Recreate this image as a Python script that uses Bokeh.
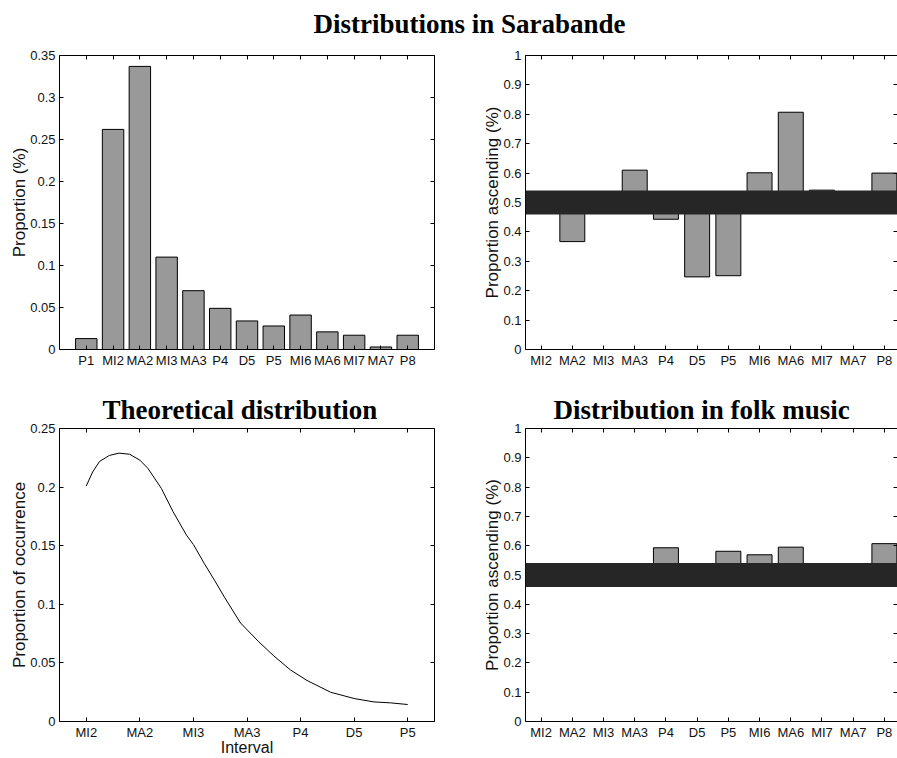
from bokeh.plotting import figure
from bokeh.layouts import column, row
from bokeh.models import FixedTicker, CustomJSTickFormatter, LinearAxis, Span, Range1d
from bokeh.embed import file_html
from bokeh.resources import INLINE

# ---------------- data ----------------
sarabande_intervals = ["P1", "MI2", "MA2", "MI3", "MA3", "P4", "D5", "P5",
                       "MI6", "MA6", "MI7", "MA7", "P8"]
sarabande_proportion = [0.013, 0.262, 0.337, 0.110, 0.070, 0.049, 0.034,
                        0.028, 0.041, 0.021, 0.017, 0.003, 0.017]

ascending_intervals = ["MI2", "MA2", "MI3", "MA3", "P4", "D5", "P5",
                       "MI6", "MA6", "MI7", "MA7", "P8"]
sarabande_ascending = [0.50, 0.367, 0.50, 0.610, 0.443, 0.247, 0.251,
                       0.601, 0.807, 0.542, 0.50, 0.600]
folk_ascending = [0.50, 0.50, 0.50, 0.50, 0.593, 0.50, 0.581,
                  0.569, 0.595, 0.50, 0.50, 0.607]
chance_level = 0.5

theory_intervals = ["MI2", "MA2", "MI3", "MA3", "P4", "D5", "P5"]
theory_pos = [1.0, 1.12, 1.25, 1.43, 1.61, 1.81, 2.0, 2.15, 2.4, 2.62, 2.87,
              3.0, 3.2, 3.4, 3.58, 3.88, 4.22, 4.5, 4.81, 5.12, 5.56, 6.0,
              6.37, 6.68, 7.0]
theory_prop = [0.201, 0.213, 0.222, 0.227, 0.229, 0.228, 0.223, 0.216, 0.199,
               0.179, 0.159, 0.151, 0.135, 0.120, 0.106, 0.084, 0.068, 0.056,
               0.044, 0.035, 0.025, 0.0196, 0.0167, 0.0159, 0.0145]

prop_ticks = [0, 0.05, 0.1, 0.15, 0.2, 0.25, 0.3, 0.35]
asc_ticks = [0, 0.1, 0.2, 0.3, 0.4, 0.5, 0.6, 0.7, 0.8, 0.9, 1.0]
theory_ticks = [0, 0.05, 0.1, 0.15, 0.2, 0.25]

# ---------------- styling ----------------
SANS = "Liberation Sans"
SERIF = "Liberation Serif"
TXT = "#111111"
BAR = "#999999"


def num_fmt():
    return CustomJSTickFormatter(code="return String(Math.round(tick*1000)/1000);")


def cat_fmt(labels):
    return CustomJSTickFormatter(args=dict(labels=labels),
                                 code="const i = Math.round(tick) - 1; return (i >= 0 && i < labels.length) ? labels[i] : '';")


def box_axis(ticks, line=True):
    return LinearAxis(ticker=FixedTicker(ticks=ticks),
                      major_label_text_font_size="1px", major_label_text_color=None,
                      major_label_standoff=0, major_tick_in=4, major_tick_out=0,
                      minor_tick_line_color=None,
                      axis_line_color="black" if line else None,
                      major_tick_line_color="black")


def style(p, xlabels, yticks, right_line=True, ylabel="", xlabel=None):
    p.xgrid.visible = False
    p.ygrid.visible = False
    p.outline_line_color = None
    p.background_fill_color = "white"
    p.border_fill_color = "white"
    xt = list(range(1, len(xlabels) + 1))
    xa = p.xaxis[0]
    xa.ticker = FixedTicker(ticks=xt)
    xa.formatter = cat_fmt(xlabels)
    ya = p.yaxis[0]
    ya.ticker = FixedTicker(ticks=yticks)
    ya.formatter = num_fmt()
    ya.axis_label = ylabel
    if xlabel:
        xa.axis_label = xlabel
    for ax in (xa, ya):
        ax.major_tick_in = 4
        ax.major_tick_out = 0
        ax.minor_tick_line_color = None
        ax.axis_line_color = "black"
        ax.major_tick_line_color = "black"
        ax.major_label_text_font = SANS
        ax.major_label_text_font_size = "13px"
        ax.major_label_text_color = TXT
        ax.major_label_standoff = 4
        ax.axis_label_text_font = SANS
        ax.axis_label_text_font_size = "17px"
        ax.axis_label_text_font_style = "normal"
        ax.axis_label_text_color = TXT
    ya.axis_label_standoff = -2
    xa.major_label_standoff = 3
    xa.axis_label_text_font_size = "16px"
    xa.axis_label_standoff = -4
    p.add_layout(box_axis(xt), "above")
    p.add_layout(box_axis(yticks, right_line), "right")


def panel_title(p, text, offset, standoff):
    p.title.text = text
    p.title.text_font = SERIF
    p.title.text_font_size = "27px"
    p.title.text_font_style = "bold"
    p.title.text_color = "black"
    p.title.align = "left"
    p.title.offset = offset
    p.title.standoff = standoff


# ---------------- suptitle ----------------
pt = figure(width=897, height=40, toolbar_location=None, output_backend="svg",
            x_axis_location=None, y_axis_location=None,
            min_border_left=0, min_border_right=0, min_border_top=39, min_border_bottom=0)
pt.outline_line_color = None
pt.xgrid.visible = False
pt.ygrid.visible = False
pt.title.text = "Distributions in Sarabande"
pt.title.text_font = SERIF
pt.title.text_font_size = "27px"
pt.title.text_font_style = "bold"
pt.title.text_color = "black"
pt.title.align = "left"
pt.title.offset = 313
pt.title.vertical_align = "bottom"
pt.title.standoff = 1

# ---------------- top-left ----------------
n1 = len(sarabande_intervals)
p1 = figure(width=450, height=335, toolbar_location=None, output_backend="svg",
            x_range=Range1d(0, n1 + 1), y_range=Range1d(0, 0.35),
            min_border_left=59, min_border_right=16, min_border_top=15, min_border_bottom=26)
p1.vbar(x=list(range(1, n1 + 1)), top=sarabande_proportion, bottom=0, width=0.8,
        fill_color=BAR, line_color="black", line_width=1)
style(p1, sarabande_intervals, prop_ticks, ylabel="Proportion (%)")

# ---------------- top-right ----------------
n2 = len(ascending_intervals)
p2 = figure(width=447, height=335, toolbar_location=None, output_backend="svg",
            x_range=Range1d(0.5, n2 + 0.42), y_range=Range1d(0, 1),
            min_border_left=75, min_border_right=0, min_border_top=15, min_border_bottom=26)
p2.vbar(x=list(range(1, n2 + 1)), top=sarabande_ascending, bottom=chance_level, width=0.8,
        fill_color=BAR, line_color="black", line_width=1)
p2.add_layout(Span(location=chance_level, dimension="width", line_color="#262626", line_width=24))
style(p2, ascending_intervals, asc_ticks, right_line=False, ylabel="Proportion ascending (%)")

# ---------------- bottom-left ----------------
n3 = len(theory_intervals)
p3 = figure(width=450, height=383, toolbar_location=None, output_backend="svg",
            x_range=Range1d(0.5, n3 + 0.5), y_range=Range1d(0, 0.25),
            min_border_left=59, min_border_right=16, min_border_top=53, min_border_bottom=36)
p3.line(theory_pos, theory_prop, line_color="black", line_width=1, line_join="round")
style(p3, theory_intervals, theory_ticks, ylabel="Proportion of occurrence", xlabel="Interval")
panel_title(p3, "Theoretical distribution", 43, 8)

# ---------------- bottom-right ----------------
p4 = figure(width=447, height=383, toolbar_location=None, output_backend="svg",
            x_range=Range1d(0.5, n2 + 0.42), y_range=Range1d(0, 1),
            min_border_left=75, min_border_right=0, min_border_top=53, min_border_bottom=36)
p4.vbar(x=list(range(1, n2 + 1)), top=folk_ascending, bottom=chance_level, width=0.8,
        fill_color=BAR, line_color="black", line_width=1)
p4.add_layout(Span(location=chance_level, dimension="width", line_color="#262626", line_width=24))
style(p4, ascending_intervals, asc_ticks, right_line=False, ylabel="Proportion ascending (%)")
panel_title(p4, "Distribution in folk music", 28, 8)

layout = column(pt, row(p1, p2), row(p3, p4))
open("out.html", "w").write(file_html(layout, INLINE))
